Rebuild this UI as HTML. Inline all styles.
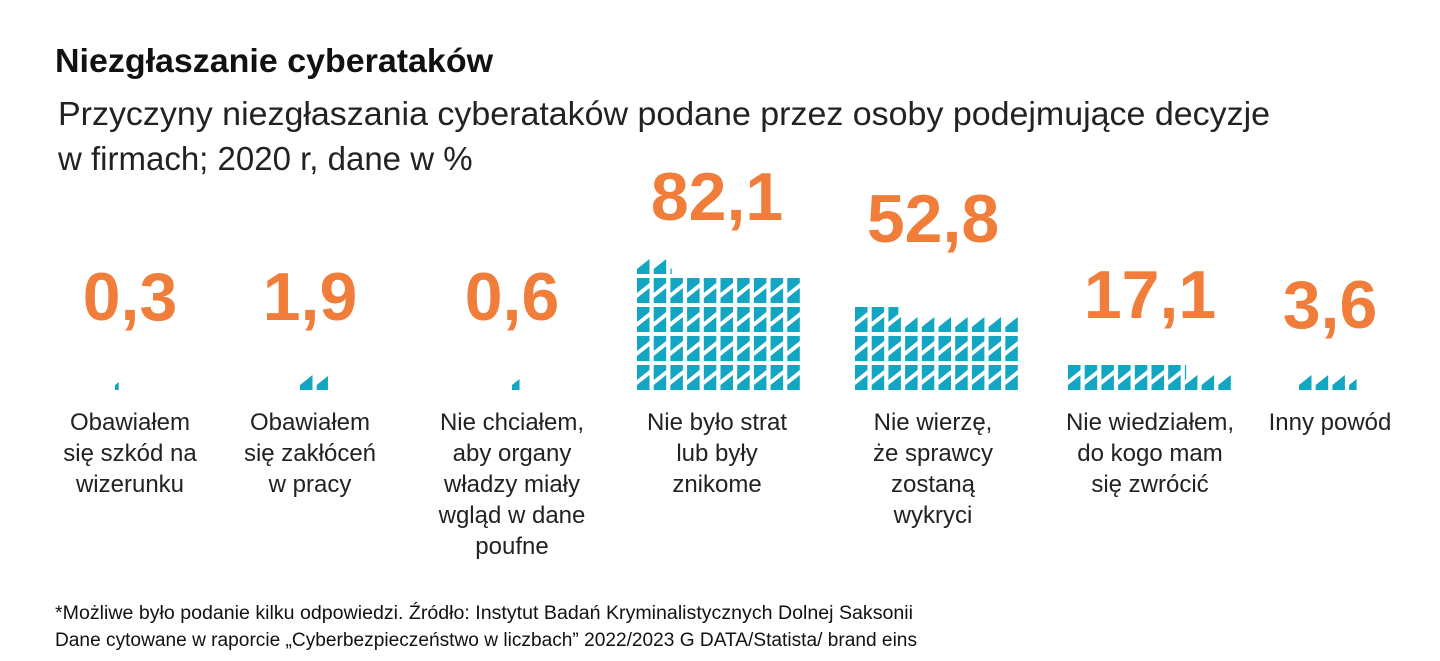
<!DOCTYPE html>
<html><head><meta charset="utf-8"><style>
body{margin:0;background:#fff;width:1440px;height:661px;overflow:hidden;font-family:"Liberation Sans",sans-serif}
svg{display:block}
</style></head><body>
<svg id="chart" width="1440" height="661" xmlns="http://www.w3.org/2000/svg">
<text x="55" y="72" font-size="33" font-weight="bold" fill="#111" textLength="438" lengthAdjust="spacingAndGlyphs">Niezgłaszanie cyberataków</text>
<text x="58" y="125" font-size="33" fill="#222" textLength="1212" lengthAdjust="spacingAndGlyphs">Przyczyny niezgłaszania cyberataków podane przez osoby podejmujące decyzje</text>
<text x="58" y="170" font-size="33" fill="#222">w firmach; 2020 r, dane w %</text>
<text x="55" y="619" font-size="19" fill="#111" textLength="858" lengthAdjust="spacingAndGlyphs">*Możliwe było podanie kilku odpowiedzi. Źródło: Instytut Badań Kryminalistycznych Dolnej Saksonii</text>
<text x="55" y="646" font-size="19" fill="#111" textLength="862" lengthAdjust="spacingAndGlyphs">Dane cytowane w raporcie „Cyberbezpieczeństwo w liczbach” 2022/2023 G DATA/Statista/ brand eins</text>
<g id="groups"></g>
</svg>
<script>
const categories = [
  ["Obawiałem","się szkód na","wizerunku"],
  ["Obawiałem","się zakłóceń","w pracy"],
  ["Nie chciałem,","aby organy","władzy miały","wgląd w dane","poufne"],
  ["Nie było strat","lub były","znikome"],
  ["Nie wierzę,","że sprawcy","zostaną","wykryci"],
  ["Nie wiedziałem,","do kogo mam","się zwrócić"],
  ["Inny powód"]
];
const values = [0.3, 1.9, 0.6, 82.1, 52.8, 17.1, 3.6];
const valueLabels = ["0,3","1,9","0,6","82,1","52,8","17,1","3,6"];

// layout (not data)
const groupX = [115, 300, 512, 637, 855, 1068, 1299];
const labelCX = [130, 310, 512, 717, 933, 1150, 1330];
const numberY = [320, 320, 320, 220, 242, 318, 328];
const baseY = 390, pitchX = 16.7, pitchY = 29, cw = 12.5, ch = 25;
const COLOR = "#12a6c2";
const NS = "http://www.w3.org/2000/svg";
const root = document.getElementById("groups");

function piecePoints(x, y, isTop, frac) {
  const w = cw * frac;
  if (isTop) return [[x,y],[x+w,y],[x+w,y+ch*(0.6-0.4*frac)],[x,y+ch*0.6]];
  return [[x,y+ch],[x+w,y+ch],[x+w,y+ch*(0.8-0.4*frac)],[x,y+ch*0.8]];
}

values.forEach((v, gi) => {
  const g = document.createElementNS(NS, "g");
  
  
  root.appendChild(g);
  const units = Math.ceil(v - 1e-9);
  for (let k = 0; k < units; k++) {
    const frac = Math.min(1, v - k);
    const row = Math.floor(k / 20), r = k % 20;
    const isTop = r >= 10, col = r % 10;
    const x = groupX[gi] + col * pitchX;
    const y = baseY - ch - row * pitchY;
    const p = document.createElementNS(NS, "polygon");
    p.setAttribute("points", piecePoints(x, y, isTop, frac).map(a => a.join(",")).join(" "));
    p.setAttribute("fill", COLOR);
    
    
    g.appendChild(p);
  }
  const t = document.createElementNS(NS, "text");
  t.setAttribute("x", labelCX[gi]);
  t.setAttribute("y", numberY[gi]);
  t.setAttribute("text-anchor", "middle");
  t.setAttribute("font-size", "68");
  t.setAttribute("font-weight", "bold");
  t.setAttribute("fill", "#f07d3a");
  t.textContent = valueLabels[gi];
  
  
  g.appendChild(t);
  categories[gi].forEach((line, li) => {
    const c = document.createElementNS(NS, "text");
    c.setAttribute("x", labelCX[gi]);
    c.setAttribute("y", 430 + li * 31);
    c.setAttribute("text-anchor", "middle");
    c.setAttribute("font-size", "24");
    c.setAttribute("fill", "#222");
    c.textContent = line;
    
    
    g.appendChild(c);
  });
});
</script>
</body></html>
